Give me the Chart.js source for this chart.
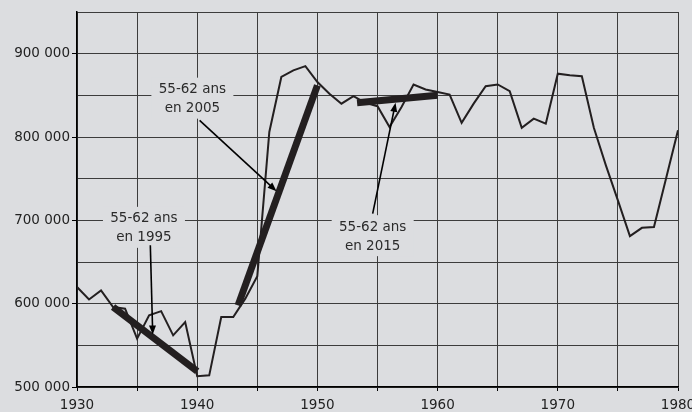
<!DOCTYPE html>
<html>
<head>
<meta charset="utf-8">
<script src="https://cdn.jsdelivr.net/npm/chart.js@4"></script>
<style>
  html, body { margin: 0; padding: 0; background: #dcdde0; }
  #wrap { width: 692px; height: 412px; }
</style>
</head>
<body>
<div id="wrap"><canvas id="chart"></canvas></div>
<script>
const years = [];
for (let y = 1930; y <= 1980; y++) years.push(y);

const population = [
  620000, 605000, 616000, 596000, 594000, 558000, 586000, 591000, 562000, 578000,
  513000, 514000, 584000, 584000, 606000, 633000, 806000, 872000, 880000, 885000,
  866000, 852000, 840000, 849000, 841000, 837000, 812000, 836000, 863000, 857000,
  854000, 851000, 817000, 840000, 861000, 863000, 855000, 811000, 822000, 816000,
  876000, 874000, 873000, 811000, 766000, 724000, 681000, 691000, 692000, 750000,
  808000
];

// cohorts aged 55-62 in 1995, 2005, 2015 (start / end points)
const cohort1995 = [{ x: 1933, y: 596000 }, { x: 1940, y: 519000 }];
const cohort2005 = [{ x: 1943.4, y: 598000 }, { x: 1950, y: 862000 }];
const cohort2015 = [{ x: 1953.3, y: 841000 }, { x: 1960, y: 850000 }];

const noteTexts = [['55-62 ans', 'en 1995'], ['55-62 ans', 'en 2005'], ['55-62 ans', 'en 2015']];
const notePos = [{ x: 1935.57, y: 691000 }, { x: 1939.6, y: 846000 }, { x: 1954.6, y: 681000 }];
const arrowFrom = [{ x: 1936.1, y: 670000 }, { x: 1940.2, y: 820000 }, { x: 1954.6, y: 708000 }];
const arrowTo = [{ x: 1936.3, y: 563000 }, { x: 1946.6, y: 735000 }, { x: 1956.5, y: 841000 }];

const ink = '#231f20';
const fontFamily = '"DejaVu Sans", sans-serif';

const background = {
  id: 'background',
  beforeDraw(chart) {
    const ctx = chart.ctx;
    ctx.save();
    ctx.fillStyle = '#dcdde0';
    ctx.fillRect(0, 0, chart.width, chart.height);
    ctx.restore();
  }
};

const notes = {
  id: 'notes',
  afterDatasetsDraw(chart) {
    const ctx = chart.ctx;
    const xs = chart.scales.x, ys = chart.scales.y;
    ctx.save();
    ctx.font = '13.5px ' + fontFamily;
    ctx.textAlign = 'center';
    ctx.textBaseline = 'middle';
    noteTexts.forEach((lines, i) => {
      const cx = xs.getPixelForValue(notePos[i].x);
      const cy = ys.getPixelForValue(notePos[i].y);
      ctx.fillStyle = '#dcdde0';
      ctx.fillRect(cx - 41, cy - 21, 82, 41);
      ctx.fillStyle = '#2b2b2b';
      ctx.fillText(lines[0], cx, cy - 9);
      ctx.fillText(lines[1], cx, cy + 10);

      const x1 = xs.getPixelForValue(arrowFrom[i].x), y1 = ys.getPixelForValue(arrowFrom[i].y);
      const x2 = xs.getPixelForValue(arrowTo[i].x), y2 = ys.getPixelForValue(arrowTo[i].y);
      const a = Math.atan2(y2 - y1, x2 - x1);
      ctx.strokeStyle = '#000';
      ctx.lineWidth = 1.6;
      ctx.beginPath();
      ctx.moveTo(x1, y1);
      ctx.lineTo(x2 - 6 * Math.cos(a), y2 - 6 * Math.sin(a));
      ctx.stroke();
      ctx.fillStyle = '#000';
      ctx.beginPath();
      ctx.moveTo(x2, y2);
      ctx.lineTo(x2 - 9 * Math.cos(a) + 3.5 * Math.sin(a), y2 - 9 * Math.sin(a) - 3.5 * Math.cos(a));
      ctx.lineTo(x2 - 9 * Math.cos(a) - 3.5 * Math.sin(a), y2 - 9 * Math.sin(a) + 3.5 * Math.cos(a));
      ctx.closePath();
      ctx.fill();
    });
    ctx.restore();
  }
};

const thick = (pts) => ({
  data: pts,
  borderColor: ink,
  borderWidth: 7,
  pointRadius: 0,
  borderCapStyle: 'butt',
  order: 0
});

const data = {
  datasets: [
    {
      data: years.map((y, i) => ({ x: y, y: population[i] })),
      borderColor: ink,
      borderWidth: 2,
      pointRadius: 0,
      tension: 0,
      order: 1
    },
    thick(cohort1995),
    thick(cohort2005),
    thick(cohort2015)
  ]
};

const config = {
  type: 'line',
  data: data,
  options: {
    responsive: true,
    maintainAspectRatio: false,
    animation: false,
    layout: { padding: { top: 12, right: 14, left: 0, bottom: 0 } },
    plugins: {
      legend: { display: false },
      tooltip: { enabled: false }
    },
    scales: {
      x: {
        type: 'linear',
        min: 1930,
        max: 1980,
        afterFit(scale) {
          scale.height = 25;
          scale.paddingLeft = 0;
          scale.paddingRight = 0;
        },
        ticks: {
          stepSize: 5,
          autoSkip: false,
          maxRotation: 0,
          padding: 6,
          color: '#222',
          font: { family: fontFamily, size: 13.5 },
          callback: (v) => (v % 10 === 0 ? String(v) : '')
        },
        grid: {
          color: '#3c3c3c',
          lineWidth: 1,
          tickLength: 4,
          tickColor: '#000'
        },
        border: { color: '#000', width: 1.5 }
      },
      y: {
        min: 500000,
        max: 950000,
        afterFit(scale) {
          scale.width = 77;
        },
        ticks: {
          stepSize: 50000,
          padding: 2,
          color: '#222',
          font: { family: fontFamily, size: 13.5 },
          callback: (v) => (v % 100000 === 0 ? (v / 1000) + ' 000' : '')
        },
        grid: {
          color: '#3c3c3c',
          lineWidth: 1,
          tickLength: 5,
          tickColor: (c) => (c.tick && c.tick.value % 100000 === 0 ? '#000' : 'rgba(0,0,0,0)')
        },
        border: { color: '#000', width: 1.5 }
      }
    }
  },
  plugins: [background, notes]
};

const myChart = new Chart(document.getElementById('chart'), config);
</script>
</body>
</html>
